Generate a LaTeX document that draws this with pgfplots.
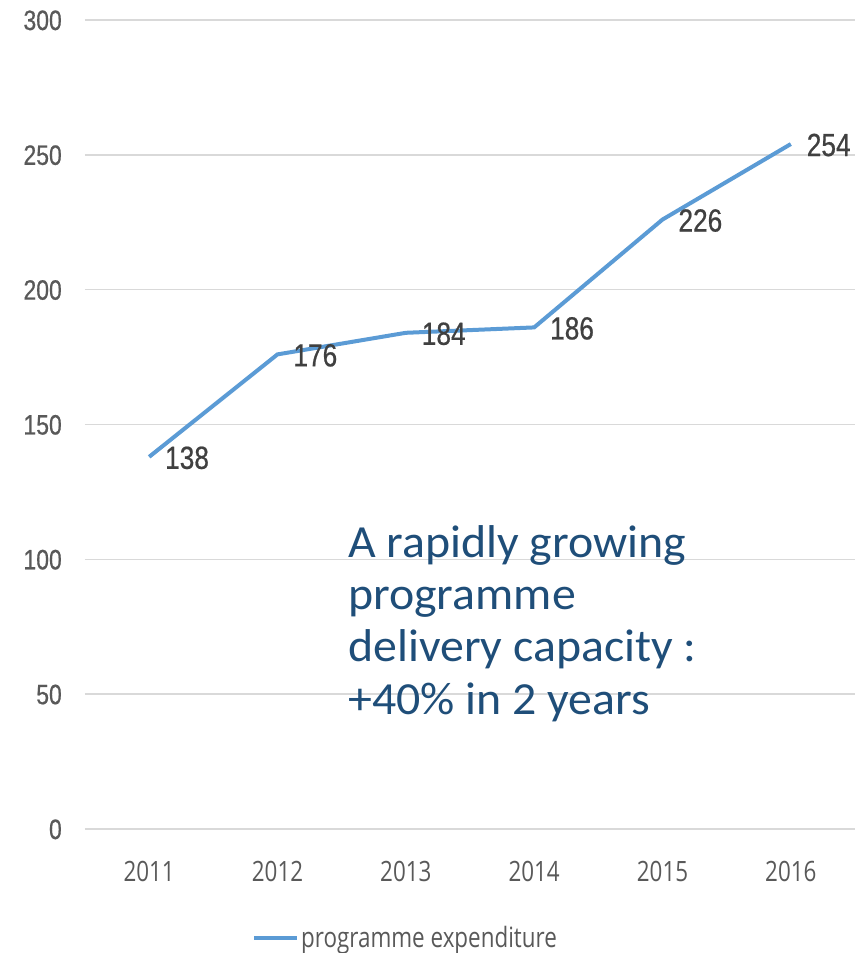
\documentclass[border=0pt]{standalone}
\usepackage{fontspec}
\usepackage{pgfplots}
\pgfplotsset{compat=1.18}
\newfontfamily\tickfont[FakeStretch=0.82, FakeBold=0.6]{Liberation Sans}
\newfontfamily\catfont[FakeStretch=0.8]{Open Sans}
\newfontfamily\notefont[FakeStretch=1.04]{Carlito}
\definecolor{lineblue}{HTML}{5B9BD5}
\definecolor{notecol}{HTML}{1F4E79}
\definecolor{tickgray}{HTML}{595959}
\definecolor{labgray}{HTML}{404040}
\definecolor{gridgray}{HTML}{D9D9D9}
\begin{document}
\begin{tikzpicture}
\path[use as bounding box] (-85bp,-124bp) rectangle (780bp,829bp);
\begin{axis}[
  at={(0,0)}, anchor=south west,
  scale only axis,
  width=770bp, height=809bp,
  xmin=2010.5, xmax=2016.5,
  ymin=0, ymax=300,
  xtick={2011,2012,2013,2014,2015,2016},
  xticklabels={2011,2012,2013,2014,2015,2016},
  ytick={0,50,100,150,200,250,300},
  major tick length=0pt,
  axis line style={draw=none},
  ymajorgrids,
  grid style={gridgray, line width=1.5bp},
  /pgf/number format/assume math mode=true,
  /pgf/number format/1000 sep={},
  xticklabel style={font=\catfont\fontsize{28bp}{30bp}\selectfont, text=tickgray, anchor=base, yshift=-52bp, inner sep=0pt},
  yticklabel style={font=\tickfont\fontsize{28bp}{30bp}\selectfont, text=tickgray, anchor=base east, xshift=-23bp, yshift=-10bp, inner sep=0pt},
  clip=false,
  legend style={at={(axis description cs:0.2169,-0.1347)}, anchor=west, draw=none, fill=none, inner sep=0pt,
    font=\catfont\fontsize{28bp}{30bp}\selectfont, text=tickgray},
  legend cell align=left,
  legend image code/.code={\draw[lineblue, line width=4bp] (0bp,0bp) -- (43bp,0bp);},
  nodes near coords,
  every node near coord/.append style={font=\tickfont\fontsize{32bp}{34bp}\selectfont, text=labgray, anchor=base west, xshift=14bp, yshift=-12bp, inner sep=0pt},
]
\addplot[lineblue, line width=4bp, mark=none] coordinates {
  (2011,138) (2012,176) (2013,184) (2014,186) (2015,226) (2016,254)
};
\addlegendentry{programme expenditure}
\end{axis}
\begin{scope}[every node/.style={anchor=base west, inner sep=0pt, text=notecol, font=\notefont\fontsize{46bp}{50bp}\selectfont}]
\node at (263bp,271bp) {A rapidly growing};
\node at (263bp,219bp) {programme};
\node at (263bp,167bp) {delivery capacity :};
\node at (263bp,114bp) {+40\% in 2 years};
\end{scope}
\end{tikzpicture}
\end{document}
